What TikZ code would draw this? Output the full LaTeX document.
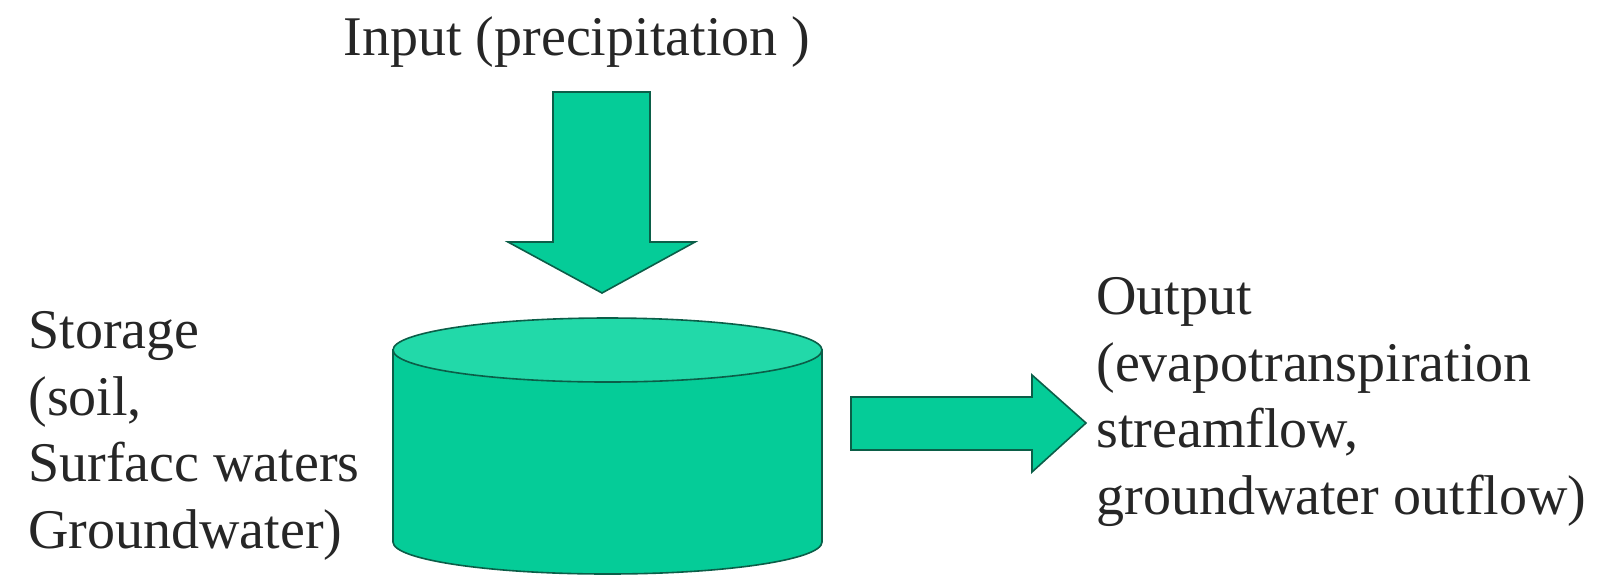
\documentclass[tikz,border=0pt]{standalone}
\usepackage{fontspec}
\setmainfont{Liberation Serif}
\definecolor{fillgreen}{HTML}{05CC98}
\definecolor{topgreen}{HTML}{22D9A9}
\definecolor{edgegreen}{HTML}{0B5E48}
\tikzset{
  blockshape/.style={fill=fillgreen, draw=edgegreen, line width=0.8pt, line join=miter},
  label/.style={inner sep=0pt, align=left, font=\fontsize{28}{33.3}\selectfont, text=black!85},
}
\begin{document}
\begin{tikzpicture}[x=0.5pt,y=-0.5pt]
\useasboundingbox (0,0) rectangle (1602,575);
% input arrow
\draw[blockshape] (553,92) -- (650,92) -- (650,242) -- (695,242) -- (602,293) -- (508,242) -- (553,242) -- cycle;
% cylinder
\coordinate (cyltop) at (607.5,350);
\coordinate (cylbot) at (607.5,542);
\draw[blockshape] (393,350) -- (393,542) arc[start angle=180, end angle=360, x radius=107.25pt, y radius=16pt] -- (822,350) -- cycle;
\draw[blockshape, fill=topgreen] (cyltop) ellipse [x radius=107.25pt, y radius=16pt];
% output arrow
\draw[blockshape] (851,397) -- (1032,397) -- (1032,375) -- (1086,423) -- (1032,472) -- (1032,450) -- (851,450) -- cycle;
% labels
\node[label, anchor=base] (input) at (577,55) {Input (precipitation )};
\node[label, anchor=north west] (storage) at (28,311) {Storage\\(soil,\\Surfacc waters\\Groundwater)};
\node[label, anchor=north west] (output) at (1096,277) {Output\\(evapotranspiration\\streamflow,\\groundwater outflow)};
\end{tikzpicture}
\end{document}
